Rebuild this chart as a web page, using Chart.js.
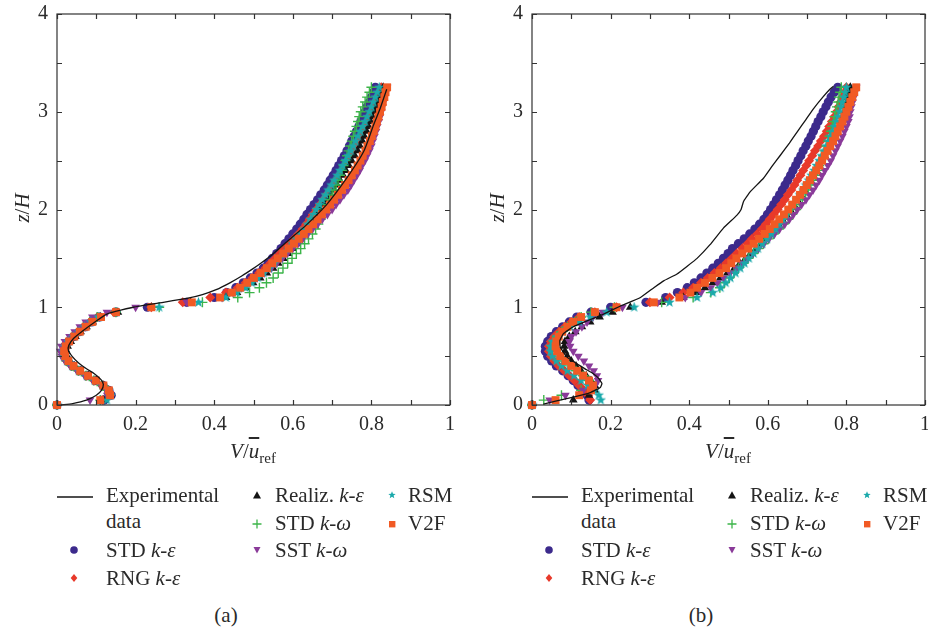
<!DOCTYPE html>
<html lang="en">
<head>
<meta charset="UTF-8" />
<title>V profiles</title>
<script src="https://cdn.jsdelivr.net/npm/chart.js"></script>
<style>
  body { margin: 0; width: 928px; height: 632px; overflow: hidden; background: #fff;
         font-family: "Liberation Serif", "DejaVu Serif", serif; color: #2a2a2a; }
  .panel { position: absolute; top: 0; width: 470px; height: 632px; }
  .panel canvas { position: absolute; left: 0; top: -7px; }
  .txt { position: absolute; font-size: 21px; line-height: 26px; white-space: nowrap; }
  .ytitle { position: absolute; left: -18px; top: 195px; width: 80px; text-align: center;
            font-size: 21px; line-height: 26px; transform: rotate(-90deg); }
  .xtitle { position: absolute; left: 193px; top: 438px; width: 120px; text-align: center;
            font-size: 21px; line-height: 26px; }
  .xtitle sub { font-size: 15px; vertical-align: -5px; }
  .ubar { text-decoration: overline; }
  .mk { position: absolute; width: 12px; height: 12px; }
  .cap { position: absolute; left: 196px; top: 602px; width: 60px; text-align: center;
         font-size: 21px; line-height: 26px; }
</style>
</head>
<body>
<div class="panel" id="panelA" style="left:0px"><canvas id="chartA" width="470" height="470"></canvas></div>
<div class="panel" id="panelB" style="left:475px"><canvas id="chartB" width="470" height="470"></canvas></div>

<script>
// heights z/H where the simulations are sampled
const zGrid = [
  0, 0.05, 0.1, 0.15, 0.2, 0.25, 0.3, 0.35, 0.4, 0.45,
  0.5, 0.55, 0.6, 0.65, 0.7, 0.75, 0.8, 0.85, 0.9, 0.95,
  1.0, 1.05, 1.1, 1.15, 1.2, 1.25, 1.3, 1.35, 1.4, 1.45,
  1.5, 1.55, 1.6, 1.65, 1.7, 1.75, 1.8, 1.85, 1.9, 1.95,
  2.0, 2.05, 2.1, 2.15, 2.2, 2.25, 2.3, 2.35, 2.4, 2.45,
  2.5, 2.55, 2.6, 2.65, 2.7, 2.75, 2.8, 2.85, 2.9, 2.95,
  3.0, 3.05, 3.1, 3.15, 3.2, 3.25
];

// ---- panel (a) ----
const expZA = [0, 0.015, 0.05, 0.1, 0.15, 0.21, 0.26, 0.32, 0.37, 0.43, 0.5, 0.56, 0.61, 0.68, 0.76, 0.86,
  0.93, 0.96, 1.0, 1.04, 1.09, 1.13, 1.18, 1.25, 1.32, 1.39, 1.44, 1.54, 1.67, 1.84, 2.05, 2.32, 2.59, 2.86, 3.03, 3.23];
const expVA = [0.01, 0.04, 0.075, 0.1, 0.113, 0.118, 0.112, 0.095, 0.075, 0.055, 0.038, 0.029, 0.03, 0.042, 0.066, 0.1,
  0.127, 0.152, 0.194, 0.254, 0.33, 0.37, 0.405, 0.44, 0.47, 0.497, 0.515, 0.548, 0.585, 0.634, 0.686, 0.737, 0.78, 0.805, 0.822, 0.839];

const stdKeA = [
  0, 0.12, 0.138, 0.132, 0.117, 0.097, 0.077, 0.057, 0.04, 0.027,
  0.019, 0.016, 0.02, 0.03, 0.043, 0.057, 0.072, 0.088, 0.108, 0.15,
  0.23, 0.33, 0.40, 0.432, 0.455, 0.474, 0.492, 0.509, 0.525, 0.537,
  0.548, 0.559, 0.57, 0.58, 0.59, 0.6, 0.61, 0.619, 0.628, 0.636,
  0.645, 0.654, 0.663, 0.671, 0.68, 0.688, 0.695, 0.703, 0.71, 0.717,
  0.724, 0.731, 0.738, 0.744, 0.75, 0.756, 0.762, 0.768, 0.773, 0.779,
  0.784, 0.789, 0.795, 0.8, 0.805, 0.81];
const rngKeA = [
  0, 0.115, 0.135, 0.13, 0.115, 0.095, 0.075, 0.055, 0.038, 0.025,
  0.018, 0.015, 0.019, 0.028, 0.04, 0.054, 0.068, 0.084, 0.103, 0.145,
  0.24, 0.32, 0.39, 0.43, 0.46, 0.48, 0.497, 0.514, 0.53, 0.543,
  0.555, 0.568, 0.58, 0.592, 0.603, 0.614, 0.625, 0.634, 0.643, 0.651,
  0.66, 0.669, 0.678, 0.686, 0.695, 0.703, 0.71, 0.718, 0.725, 0.733,
  0.74, 0.748, 0.755, 0.761, 0.768, 0.774, 0.78, 0.785, 0.79, 0.795,
  0.80, 0.805, 0.81, 0.815, 0.82, 0.825];
const realizA = [
  0, 0.119, 0.136, 0.131, 0.118, 0.1, 0.08, 0.061, 0.045, 0.033,
  0.026, 0.024, 0.027, 0.035, 0.047, 0.06, 0.075, 0.091, 0.11, 0.155,
  0.24, 0.34, 0.43, 0.458, 0.48, 0.499, 0.517, 0.534, 0.55, 0.563,
  0.576, 0.588, 0.60, 0.61, 0.62, 0.63, 0.64, 0.648, 0.655, 0.663,
  0.67, 0.679, 0.688, 0.696, 0.705, 0.713, 0.72, 0.728, 0.735, 0.743,
  0.75, 0.758, 0.765, 0.771, 0.777, 0.782, 0.788, 0.793, 0.798, 0.803,
  0.808, 0.812, 0.817, 0.821, 0.826, 0.83];
const stdKwA = [
  0, 0.11, 0.133, 0.128, 0.113, 0.093, 0.073, 0.054, 0.037, 0.024,
  0.017, 0.014, 0.018, 0.027, 0.039, 0.053, 0.067, 0.083, 0.102, 0.15,
  0.26, 0.37, 0.46, 0.49, 0.515, 0.533, 0.55, 0.563, 0.575, 0.587,
  0.598, 0.609, 0.62, 0.63, 0.64, 0.65, 0.658, 0.665, 0.671, 0.677,
  0.683, 0.689, 0.694, 0.7, 0.705, 0.71, 0.715, 0.72, 0.725, 0.729,
  0.734, 0.738, 0.742, 0.746, 0.75, 0.754, 0.758, 0.762, 0.766, 0.769,
  0.773, 0.778, 0.784, 0.789, 0.795, 0.80];
const sstA = [
  0, 0.084, 0.128, 0.127, 0.112, 0.092, 0.071, 0.051, 0.034, 0.021,
  0.012, 0.008, 0.011, 0.02, 0.032, 0.045, 0.058, 0.073, 0.09, 0.127,
  0.2, 0.33, 0.42, 0.448, 0.47, 0.49, 0.509, 0.527, 0.545, 0.559,
  0.573, 0.586, 0.60, 0.613, 0.625, 0.638, 0.65, 0.663, 0.675, 0.688,
  0.70, 0.71, 0.72, 0.73, 0.74, 0.748, 0.755, 0.763, 0.77, 0.776,
  0.783, 0.789, 0.795, 0.8, 0.804, 0.808, 0.812, 0.815, 0.819, 0.822,
  0.825, 0.828, 0.831, 0.834, 0.837, 0.84];
const rsmA = [
  0, 0.127, 0.137, 0.131, 0.116, 0.096, 0.076, 0.056, 0.039, 0.026,
  0.018, 0.016, 0.02, 0.029, 0.042, 0.056, 0.07, 0.086, 0.106, 0.15,
  0.26, 0.36, 0.43, 0.458, 0.48, 0.496, 0.511, 0.526, 0.54, 0.553,
  0.566, 0.578, 0.59, 0.6, 0.61, 0.62, 0.63, 0.638, 0.645, 0.653,
  0.66, 0.668, 0.675, 0.683, 0.69, 0.698, 0.705, 0.713, 0.72, 0.727,
  0.734, 0.741, 0.748, 0.754, 0.76, 0.766, 0.772, 0.778, 0.784, 0.789,
  0.795, 0.8, 0.805, 0.81, 0.815, 0.82];
const v2fA = [
  0, 0.11, 0.135, 0.132, 0.118, 0.099, 0.079, 0.059, 0.042, 0.029,
  0.021, 0.018, 0.022, 0.031, 0.044, 0.058, 0.073, 0.09, 0.112, 0.15,
  0.24, 0.343, 0.415, 0.445, 0.466, 0.484, 0.501, 0.518, 0.534, 0.548,
  0.562, 0.576, 0.59, 0.603, 0.615, 0.628, 0.64, 0.652, 0.663, 0.674,
  0.685, 0.695, 0.705, 0.715, 0.725, 0.733, 0.742, 0.75, 0.758, 0.765,
  0.772, 0.778, 0.785, 0.79, 0.796, 0.801, 0.806, 0.81, 0.814, 0.818,
  0.822, 0.826, 0.829, 0.833, 0.836, 0.84];

// ---- panel (b) ----
const expZB = [0.01, 0.04, 0.08, 0.13, 0.18, 0.22, 0.27, 0.32, 0.37, 0.42, 0.49, 0.59, 0.66, 0.73, 0.8, 0.86,
  0.93, 1.01, 1.1, 1.2, 1.27, 1.34, 1.42, 1.5, 1.64, 1.81, 1.94, 2.0, 2.08, 2.18, 2.32, 2.45, 2.55, 2.68,
  2.79, 2.92, 3.03, 3.15, 3.23, 3.26];
const expVB = [0.029, 0.06, 0.105, 0.15, 0.174, 0.178, 0.17, 0.156, 0.135, 0.115, 0.089, 0.072, 0.071, 0.08, 0.105, 0.14,
  0.182, 0.224, 0.276, 0.31, 0.335, 0.369, 0.395, 0.42, 0.453, 0.487, 0.521, 0.532, 0.538, 0.555, 0.589, 0.612, 0.631, 0.655,
  0.674, 0.697, 0.716, 0.74, 0.758, 0.767];

const stdKeB = [
  0, 0.145, 0.14, 0.128, 0.117, 0.105, 0.092, 0.078, 0.062, 0.05,
  0.04, 0.034, 0.034, 0.04, 0.049, 0.062, 0.078, 0.095, 0.114, 0.15,
  0.2, 0.29, 0.34, 0.37, 0.395, 0.413, 0.43, 0.445, 0.46, 0.474,
  0.487, 0.499, 0.51, 0.525, 0.54, 0.554, 0.567, 0.579, 0.59, 0.599,
  0.607, 0.615, 0.622, 0.63, 0.637, 0.644, 0.651, 0.658, 0.664, 0.671,
  0.677, 0.684, 0.69, 0.697, 0.703, 0.71, 0.716, 0.722, 0.728, 0.735,
  0.741, 0.748, 0.754, 0.761, 0.769, 0.778];
const rngKeB = [
  0, 0.148, 0.143, 0.132, 0.12, 0.108, 0.095, 0.082, 0.068, 0.057,
  0.048, 0.043, 0.043, 0.048, 0.057, 0.069, 0.084, 0.1, 0.12, 0.16,
  0.215, 0.30, 0.35, 0.385, 0.41, 0.43, 0.447, 0.464, 0.48, 0.494,
  0.508, 0.521, 0.535, 0.548, 0.56, 0.573, 0.585, 0.595, 0.605, 0.615,
  0.625, 0.634, 0.643, 0.651, 0.66, 0.668, 0.675, 0.683, 0.69, 0.698,
  0.705, 0.713, 0.72, 0.728, 0.735, 0.743, 0.75, 0.756, 0.763, 0.769,
  0.775, 0.78, 0.785, 0.79, 0.795, 0.80];
const realizB = [
  0, 0.105, 0.145, 0.16, 0.16, 0.15, 0.138, 0.125, 0.112, 0.1,
  0.09, 0.084, 0.082, 0.084, 0.095, 0.11, 0.127, 0.148, 0.172, 0.205,
  0.25, 0.33, 0.385, 0.418, 0.44, 0.46, 0.479, 0.497, 0.515, 0.529,
  0.543, 0.556, 0.57, 0.582, 0.594, 0.605, 0.617, 0.627, 0.637, 0.647,
  0.657, 0.666, 0.675, 0.684, 0.693, 0.701, 0.709, 0.716, 0.724, 0.731,
  0.738, 0.745, 0.752, 0.758, 0.764, 0.77, 0.776, 0.781, 0.786, 0.79,
  0.795, 0.798, 0.801, 0.804, 0.807, 0.81];
const stdKwB = [
  0, 0.03, 0.075, 0.125, 0.15, 0.145, 0.13, 0.112, 0.095, 0.08,
  0.067, 0.057, 0.052, 0.055, 0.063, 0.075, 0.09, 0.108, 0.125, 0.15,
  0.21, 0.33, 0.41, 0.455, 0.478, 0.49, 0.502, 0.514, 0.525, 0.538,
  0.55, 0.563, 0.576, 0.589, 0.602, 0.615, 0.628, 0.64, 0.652, 0.662,
  0.672, 0.68, 0.688, 0.696, 0.703, 0.709, 0.715, 0.721, 0.726, 0.731,
  0.736, 0.741, 0.745, 0.749, 0.753, 0.757, 0.761, 0.764, 0.767, 0.77,
  0.773, 0.776, 0.779, 0.781, 0.784, 0.787];
const sstB = [
  0, 0.045, 0.085, 0.13, 0.16, 0.168, 0.165, 0.157, 0.145, 0.132,
  0.118, 0.105, 0.097, 0.095, 0.1, 0.112, 0.127, 0.14, 0.155, 0.18,
  0.23, 0.32, 0.39, 0.43, 0.455, 0.472, 0.488, 0.504, 0.52, 0.534,
  0.548, 0.562, 0.576, 0.59, 0.603, 0.617, 0.63, 0.643, 0.655, 0.665,
  0.675, 0.686, 0.697, 0.706, 0.715, 0.723, 0.731, 0.738, 0.745, 0.753,
  0.76, 0.766, 0.772, 0.778, 0.784, 0.79, 0.795, 0.8, 0.805, 0.808,
  0.81, 0.813, 0.816, 0.819, 0.822, 0.825];
const rsmB = [
  0, 0.175, 0.17, 0.158, 0.142, 0.125, 0.107, 0.09, 0.075, 0.062,
  0.052, 0.047, 0.047, 0.053, 0.063, 0.078, 0.097, 0.12, 0.148, 0.19,
  0.26, 0.35, 0.42, 0.46, 0.48, 0.493, 0.505, 0.518, 0.53, 0.541,
  0.552, 0.564, 0.575, 0.586, 0.598, 0.609, 0.62, 0.629, 0.638, 0.646,
  0.655, 0.664, 0.673, 0.681, 0.69, 0.697, 0.704, 0.711, 0.718, 0.724,
  0.731, 0.737, 0.743, 0.749, 0.754, 0.76, 0.765, 0.77, 0.775, 0.779,
  0.784, 0.787, 0.79, 0.794, 0.797, 0.80];
const v2fB = [
  0, 0.06, 0.12, 0.15, 0.155, 0.145, 0.13, 0.115, 0.1, 0.085,
  0.072, 0.064, 0.06, 0.062, 0.068, 0.077, 0.09, 0.105, 0.125, 0.16,
  0.215, 0.31, 0.375, 0.403, 0.42, 0.44, 0.459, 0.477, 0.494, 0.507,
  0.52, 0.535, 0.55, 0.564, 0.578, 0.592, 0.605, 0.617, 0.629, 0.641,
  0.652, 0.662, 0.672, 0.682, 0.691, 0.699, 0.707, 0.715, 0.723, 0.731,
  0.738, 0.745, 0.752, 0.759, 0.766, 0.772, 0.778, 0.784, 0.79, 0.795,
  0.80, 0.805, 0.81, 0.815, 0.82, 0.825];

const xTickLabelsEvery = 0.2;
const yTickLabelsEvery = 1;

// ---- styling ----
const C = {
  blue: '#3c2a8c', red: '#e8392a', black: '#141414', green: '#3db54a',
  purple: '#8a3a99', teal: '#1aa9ab', orange: '#f15a24', axis: '#333'
};
const serif = '"Liberation Serif", "DejaVu Serif", serif';

function makeStar(size, color) {
  const c = document.createElement('canvas');
  c.width = size; c.height = size;
  const g = c.getContext('2d');
  g.fillStyle = color;
  g.beginPath();
  for (let i = 0; i < 10; i++) {
    const r = i % 2 ? size * 0.21 : size * 0.5;
    const a = -Math.PI / 2 + i * Math.PI / 5;
    g.lineTo(size / 2 + r * Math.cos(a), size / 2 + r * Math.sin(a));
  }
  g.closePath();
  g.fill();
  return c;
}
const starImg = makeStar(11, C.teal);

function pts(vs, zs) { return vs.map((v, i) => ({ x: v, y: zs[i] })); }

function simSet(label, vs, style, order) {
  return Object.assign({ label: label, data: pts(vs, zGrid), order: order, clip: false, borderWidth: 0 }, style);
}

function buildDatasets(p) {
  return [
    { label: 'Experimental data', data: pts(p.expV, p.expZ), showLine: true, pointRadius: 0,
      borderColor: C.black, borderWidth: 1.3, tension: p.tension, order: 0, clip: false },
    simSet('V2F', p.v2f, { pointStyle: 'rect', pointRadius: 5.6, backgroundColor: C.orange, borderColor: C.orange }, 1),
    simSet('RSM', p.rsm, { pointStyle: starImg, backgroundColor: C.teal, borderColor: C.teal }, 2),
    simSet('SST k-ω', p.sst, { pointStyle: 'triangle', rotation: 180, pointRadius: 5, backgroundColor: C.purple, borderColor: C.purple }, 3),
    simSet('STD k-ω', p.stdKw, { pointStyle: 'cross', pointRadius: 5, backgroundColor: C.green, borderColor: C.green, borderWidth: 1.4 }, 4),
    simSet('Realiz. k-ε', p.realiz, { pointStyle: 'triangle', pointRadius: 5, backgroundColor: C.black, borderColor: C.black }, 5),
    simSet('RNG k-ε', p.rngKe, { pointStyle: 'rectRot', pointRadius: 5, backgroundColor: C.red, borderColor: C.red }, 6),
    simSet('STD k-ε', p.stdKe, { pointStyle: 'circle', pointRadius: 4.6, backgroundColor: C.blue, borderColor: C.blue }, 7)
  ];
}

// inward ticks on all four sides plus the frame
const framePlugin = {
  id: 'frame',
  afterDatasetsDraw(chart) {
    const { ctx, chartArea: a, scales } = chart;
    const tl = 5;
    ctx.save();
    ctx.strokeStyle = C.axis;
    ctx.lineWidth = 1.2;
    ctx.beginPath();
    scales.x.ticks.forEach(t => {
      const px = Math.round(scales.x.getPixelForValue(t.value)) + 0.5;
      ctx.moveTo(px, a.bottom); ctx.lineTo(px, a.bottom - tl);
      ctx.moveTo(px, a.top); ctx.lineTo(px, a.top + tl);
    });
    scales.y.ticks.forEach(t => {
      const py = Math.round(scales.y.getPixelForValue(t.value)) + 0.5;
      ctx.moveTo(a.left, py); ctx.lineTo(a.left + tl, py);
      ctx.moveTo(a.right, py); ctx.lineTo(a.right - tl, py);
    });
    ctx.stroke();
    ctx.strokeRect(a.left, a.top, a.right - a.left, a.bottom - a.top);
    ctx.restore();
  }
};

Chart.defaults.font.family = serif;
Chart.defaults.color = '#2a2a2a';

function makeChart(id, p) {
  return new Chart(document.getElementById(id), {
    type: 'scatter',
    data: { datasets: buildDatasets(p) },
    options: {
      responsive: false,
      animation: false,
      layout: { autoPadding: false, padding: { top: 4, right: 20, left: 0, bottom: 0 } },
      plugins: { legend: { display: false }, tooltip: { enabled: false } },
      scales: {
        x: {
          type: 'linear', min: 0, max: 1,
          grid: { display: false, drawTicks: false },
          border: { display: false },
          afterFit: s => { s.height = 58; },
          ticks: {
            stepSize: 0.1, autoSkip: false, maxRotation: 0, padding: 8,
            font: { family: serif, size: 20 }, color: '#2a2a2a',
            callback: v => (Math.round(v * 10) % Math.round(xTickLabelsEvery * 10) === 0 ? String(Math.round(v * 10) / 10) : '')
          }
        },
        y: {
          type: 'linear', min: 0, max: 4,
          grid: { display: false, drawTicks: false },
          border: { display: false },
          afterFit: s => { s.width = 57; },
          ticks: {
            stepSize: 0.5, autoSkip: false, padding: 9,
            font: { family: serif, size: 20 }, color: '#2a2a2a',
            callback: v => (v % yTickLabelsEvery === 0 ? String(v) : '')
          }
        }
      }
    },
    plugins: [framePlugin]
  });
}

makeChart('chartA', { expZ: expZA, expV: expVA, tension: 0.2, stdKe: stdKeA, rngKe: rngKeA, realiz: realizA,
  stdKw: stdKwA, sst: sstA, rsm: rsmA, v2f: v2fA });
makeChart('chartB', { expZ: expZB, expV: expVB, tension: 0.1, stdKe: stdKeB, rngKe: rngKeB, realiz: realizB,
  stdKw: stdKwB, sst: sstB, rsm: rsmB, v2f: v2fB });

// ---- axis titles, legends and captions (HTML text) ----
const marks = {
  line: `<svg width="36" height="12"><line x1="0" y1="6" x2="36" y2="6" stroke="${C.black}" stroke-width="1.5"/></svg>`,
  circle: `<svg class="mk" viewBox="0 0 12 12"><circle cx="6" cy="6" r="3.8" fill="${C.blue}"/></svg>`,
  diamond: `<svg class="mk" viewBox="0 0 12 12"><path d="M6 2 L9.3 6 L6 10 L2.7 6 Z" fill="${C.red}"/></svg>`,
  tri: `<svg class="mk" viewBox="0 0 12 12"><path d="M6 2.3 L10 9.5 L2 9.5 Z" fill="${C.black}"/></svg>`,
  plus: `<svg class="mk" viewBox="0 0 12 12"><path d="M6 1.5 V10.5 M1.5 6 H10.5" stroke="${C.green}" stroke-width="1.3"/></svg>`,
  dtri: `<svg class="mk" viewBox="0 0 12 12"><path d="M2.5 3 L9.5 3 L6 9.5 Z" fill="${C.purple}"/></svg>`,
  star: `<svg class="mk" viewBox="0 0 12 12"><path d="M6 2.2 L7 4.8 L9.7 4.9 L7.6 6.6 L8.3 9.3 L6 7.8 L3.7 9.3 L4.4 6.6 L2.3 4.9 L5 4.8 Z" fill="${C.teal}"/></svg>`,
  square: `<svg class="mk" viewBox="0 0 12 12"><rect x="3" y="3" width="6.4" height="6.4" fill="${C.orange}"/></svg>`
};

const legendItems = [
  { mark: 'line', mx: 57, my: 495, tx: 106, ty: 495, html: 'Experimental' },
  { mark: null, tx: 106, ty: 521, html: 'data' },
  { mark: 'circle', mx: 74, my: 550, tx: 106, ty: 550, html: 'STD <i>k</i>-<i>ε</i>' },
  { mark: 'diamond', mx: 74, my: 578, tx: 106, ty: 578, html: 'RNG <i>k</i>-<i>ε</i>' },
  { mark: 'tri', mx: 257, my: 495, tx: 275, ty: 495, html: 'Realiz. <i>k</i>-<i>ε</i>' },
  { mark: 'plus', mx: 257, my: 524, tx: 275, ty: 523, html: 'STD <i>k</i>-<i>ω</i>' },
  { mark: 'dtri', mx: 257, my: 550, tx: 275, ty: 550, html: 'SST <i>k</i>-<i>ω</i>' },
  { mark: 'star', mx: 392, my: 495, tx: 408, ty: 495, html: 'RSM' },
  { mark: 'square', mx: 392, my: 524, tx: 408, ty: 523, html: 'V2F' }
];

function decorate(panelId, caption) {
  const p = document.getElementById(panelId);
  let h = '<div class="ytitle"><i>z</i>/<i>H</i></div>';
  h += '<div class="xtitle"><i>V</i>/<i class="ubar">u</i><sub>ref</sub></div>';
  legendItems.forEach(it => {
    if (it.mark === 'line') {
      h += `<div style="position:absolute;left:${it.mx}px;top:${it.my - 6}px;height:12px">${marks.line}</div>`;
    } else if (it.mark) {
      h += `<div style="position:absolute;left:${it.mx - 6}px;top:${it.my - 6}px;width:12px;height:12px">${marks[it.mark]}</div>`;
    }
    h += `<div class="txt" style="left:${it.tx}px;top:${it.ty - 13}px">${it.html}</div>`;
  });
  h += `<div class="cap">${caption}</div>`;
  p.insertAdjacentHTML('beforeend', h);
}
decorate('panelA', '(a)');
decorate('panelB', '(b)');
</script>
</body>
</html>
